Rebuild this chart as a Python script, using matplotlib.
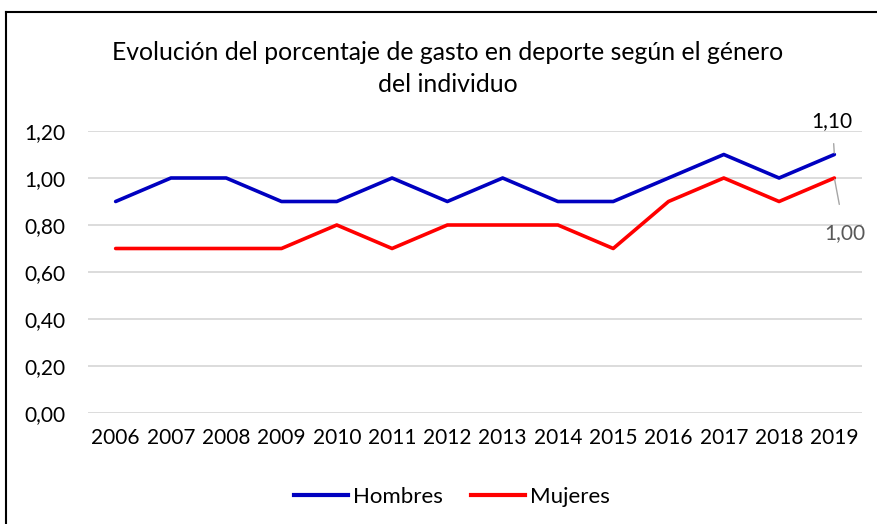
import matplotlib.pyplot as plt
from matplotlib.lines import Line2D

years = ['2006', '2007', '2008', '2009', '2010', '2011', '2012',
         '2013', '2014', '2015', '2016', '2017', '2018', '2019']
hombres = [0.9, 1.0, 1.0, 0.9, 0.9, 1.0, 0.9, 1.0, 0.9, 0.9, 1.0, 1.1, 1.0, 1.1]
mujeres = [0.7, 0.7, 0.7, 0.7, 0.8, 0.7, 0.8, 0.8, 0.8, 0.7, 0.9, 1.0, 0.9, 1.0]
yticks = [0.0, 0.2, 0.4, 0.6, 0.8, 1.0, 1.2]

plt.rcParams['font.family'] = ['Lato', 'DejaVu Sans']

W, H = 877, 524
fig = plt.figure(figsize=(W / 100, H / 100), dpi=100)
ax = fig.add_axes([88 / W, 1 - 413 / H, (862 - 88) / W, (413 - 131) / H])

x = list(range(len(years)))
ax.plot(x, hombres, color='#0000C0', lw=2.6, solid_capstyle='round', label='Hombres')
ax.plot(x, mujeres, color='#FF0000', lw=2.6, solid_capstyle='round', label='Mujeres')

ax.set_xlim(-0.5, len(years) - 0.5)
ax.set_ylim(0, 1.2)
ax.set_yticks(yticks)
ax.set_yticklabels([('%.2f' % v).replace('.', ',') for v in yticks])
ax.set_xticks(x)
ax.set_xticklabels(years)
ax.tick_params(axis='both', length=0, labelsize=15, colors='#000000')
ax.tick_params(axis='y', pad=16)
ax.tick_params(axis='x', pad=11)
ax.grid(axis='y', color='#D9D9D9', lw=1.3)
ax.set_axisbelow(True)
for s in ax.spines.values():
    s.set_visible(False)

# data labels on the last point
last = len(years) - 1
ax.annotate('1,10', xy=(last, hombres[-1]), xytext=(-1.5, 24), textcoords='offset points',
            ha='center', va='center', fontsize=15, color='#000000',
            arrowprops=dict(arrowstyle='-', color='#A6A6A6', lw=1, shrinkA=7, shrinkB=1))
ax.annotate('1,00', xy=(last, mujeres[-1]), xytext=(7.5, -40), textcoords='offset points',
            ha='center', va='center', fontsize=15, color='#595959',
            arrowprops=dict(arrowstyle='-', color='#A6A6A6', lw=1, shrinkA=12, shrinkB=1))

fig.text(448 / W, 1 - 52 / H, 'Evolución del porcentaje de gasto en deporte según el género',
         ha='center', va='center', fontsize=17.8)
fig.text(448 / W, 1 - 85 / H, 'del individuo', ha='center', va='center', fontsize=17.8)

handles = [Line2D([], [], color='#0000C0', lw=3), Line2D([], [], color='#FF0000', lw=3)]
fig.legend(handles, ['Hombres', 'Mujeres'], loc='center', bbox_to_anchor=(452 / W, 1 - 497 / H),
           ncol=2, frameon=False, fontsize=16, handlelength=2.45, handletextpad=0.22,
           columnspacing=1.25)

# chart border
fig.add_artist(Line2D([6 / W, 1], [1 - 12 / H, 1 - 12 / H], color='black', lw=1.5,
                      transform=fig.transFigure))
fig.add_artist(Line2D([6 / W, 6 / W], [0, 1 - 12 / H], color='black', lw=1.5,
                      transform=fig.transFigure))

fig.savefig('out.png', dpi=100)
